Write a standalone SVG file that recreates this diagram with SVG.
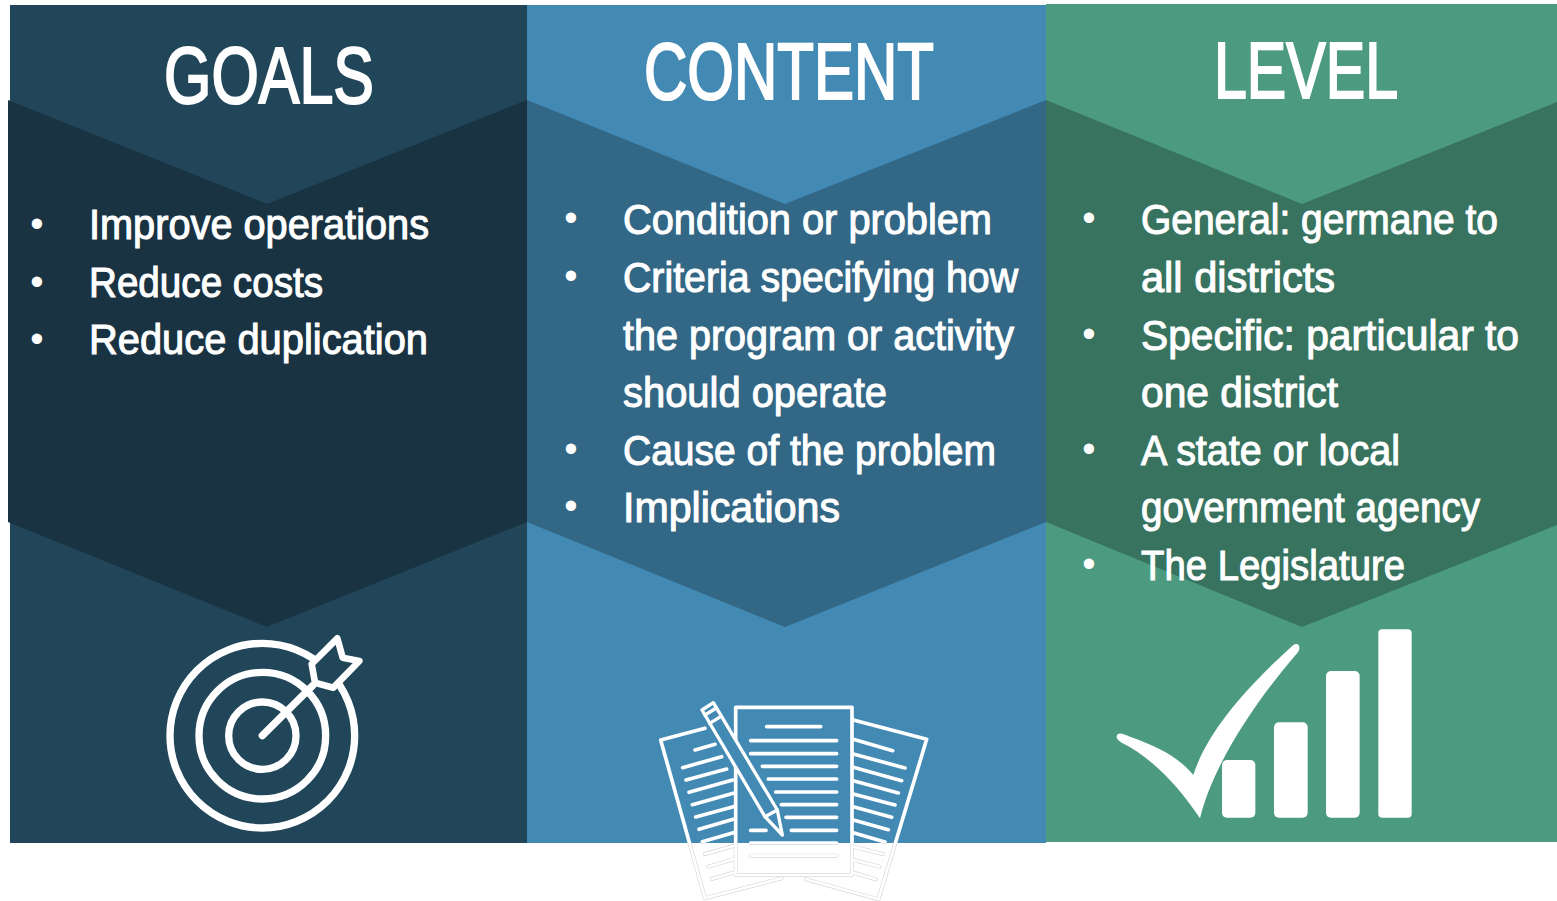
<svg xmlns="http://www.w3.org/2000/svg" xmlns:xlink="http://www.w3.org/1999/xlink" width="1557" height="901" viewBox="0 0 1557 901">
<style>
text{font-family:"Liberation Sans Narrow","Liberation Sans",Arial,sans-serif;fill:#fff;stroke:#fff}
.h{font-size:80px;stroke-width:2.2px}
.b{font-size:43px;stroke-width:1.1px}
.d{font-size:38px;text-anchor:middle;stroke-width:0;font-family:"Liberation Sans",Arial,sans-serif}
.ln{fill:none;stroke-linecap:round;stroke-linejoin:round}
</style>
<defs>
<clipPath id="above"><rect x="0" y="0" width="1557" height="843"/></clipPath>
<clipPath id="below"><rect x="0" y="843" width="1557" height="58"/></clipPath>
<g id="papers" transform="translate(640 690) scale(.33333)" stroke-linecap="round" stroke-linejoin="round">
<path d="M195,115 L62,150 L195,625 L425,565" fill="none"/>
<path d="M640,90 L860,148 L715,628 L498,568" fill="none"/>
<path d="M165,180L225,163M128,233L245,200M138,270L260,237M147,307L278,270M157,344L280,310M167,381L280,350M177,418L280,388M187,455L280,428M195,492L280,468M205,530L280,508M215,567L280,548" fill="none"/>
<path d="M640,148L758,182M640,192L795,234M640,232L785,272M640,272L775,309M640,312L765,345M640,350L755,382M640,390L745,419M640,428L735,456M640,470L728,492M640,510L718,530M640,548L708,568" fill="none"/>
<rect x="287" y="52" width="349" height="503"/>
<path d="M380,110H542M332,152H590M332,191H590M367,229H590M385,267H590M407,306H590M424,344H590M438,382H590M332,421H378M454,421H590M332,459H590M332,497H590" fill="none"/>
</g>
</defs>

<g id="goals">
<rect x="10" y="5" width="517" height="838" fill="#214559"/>
<path d="M8,100 L267,204 L527,100 V522 L267,627 L8,522 Z" fill="#1a3342"/>
<text class="h" x="164" y="103" textLength="210" lengthAdjust="spacingAndGlyphs">GOALS</text>
<text class="d" x="37" y="237">•</text>
<text class="b" x="89" y="239" textLength="340" lengthAdjust="spacingAndGlyphs">Improve operations</text>
<text class="d" x="37" y="295">•</text>
<text class="b" x="89" y="297" textLength="234" lengthAdjust="spacingAndGlyphs">Reduce costs</text>
<text class="d" x="37" y="352">•</text>
<text class="b" x="89" y="354" textLength="339" lengthAdjust="spacingAndGlyphs">Reduce duplication</text>
<g id="target-icon" transform="translate(130 620) scale(.33333)" class="ln" stroke="#fff" stroke-width="22">
<circle cx="397" cy="347" r="277"/>
<circle cx="397" cy="347" r="190"/>
<circle cx="397" cy="347" r="101"/>
<path d="M397,347 L548,197"/>
<path d="M545,132 L622,55 L638,113 L688,123 L610,203 L555,188 Z" fill="#214559" stroke-width="20"/>
</g>
</g>

<g id="content">
<rect x="527" y="5" width="519" height="838" fill="#4289b4"/>
<path d="M527,100 L785,204 L1046,100 V522 L785,627 L527,522 Z" fill="#336786"/>
<text class="h" x="644" y="99" textLength="290" lengthAdjust="spacingAndGlyphs">CONTENT</text>
<text class="d" x="571" y="231">•</text>
<text class="b" x="623" y="234" textLength="369" lengthAdjust="spacingAndGlyphs">Condition or problem</text>
<text class="d" x="571" y="289">•</text>
<text class="b" x="623" y="292" textLength="395" lengthAdjust="spacingAndGlyphs">Criteria specifying how</text>
<text class="b" x="623" y="350" textLength="391" lengthAdjust="spacingAndGlyphs">the program or activity</text>
<text class="b" x="623" y="407" textLength="264" lengthAdjust="spacingAndGlyphs">should operate</text>
<text class="d" x="571" y="462">•</text>
<text class="b" x="623" y="465" textLength="373" lengthAdjust="spacingAndGlyphs">Cause of the problem</text>
<text class="d" x="571" y="519">•</text>
<text class="b" x="623" y="522" textLength="217" lengthAdjust="spacingAndGlyphs">Implications</text>
<g id="document-icon">
<g clip-path="url(#above)"><use href="#papers" xlink:href="#papers" fill="#4289b4" stroke="#fff" stroke-width="11"/></g>
<g clip-path="url(#below)">
<use href="#papers" xlink:href="#papers" fill="#fff" stroke="#d8d8d8" stroke-width="12"/>
<use href="#papers" xlink:href="#papers" fill="none" stroke="#fff" stroke-width="8"/>
</g>
<g transform="translate(640 690) scale(.33333)" stroke="#fff" stroke-width="10" stroke-linejoin="round" stroke-linecap="round" fill="#4289b4">
<path d="M186,60 L220,38 L412,360 L427,435 L375,380 Z"/>
<path d="M195,75 L229,54M209,100 L243,79M375,380 L412,360" fill="none"/>
</g>
</g>
</g>

<g id="level">
<rect x="1046" y="4" width="511" height="838" fill="#4c9b80"/>
<path d="M1046,100 L1302,204 L1557,102 V525 L1302,627 L1046,522 Z" fill="#38735f"/>
<text class="h" x="1214" y="98" textLength="184" lengthAdjust="spacingAndGlyphs">LEVEL</text>
<text class="d" x="1089" y="231">•</text>
<text class="b" x="1141" y="234" textLength="357" lengthAdjust="spacingAndGlyphs">General: germane to</text>
<text class="b" x="1141" y="292" textLength="194" lengthAdjust="spacingAndGlyphs">all districts</text>
<text class="d" x="1089" y="347">•</text>
<text class="b" x="1141" y="350" textLength="378" lengthAdjust="spacingAndGlyphs">Specific: particular to</text>
<text class="b" x="1141" y="407" textLength="197" lengthAdjust="spacingAndGlyphs">one district</text>
<text class="d" x="1089" y="462">•</text>
<text class="b" x="1141" y="465" textLength="259" lengthAdjust="spacingAndGlyphs">A state or local</text>
<text class="b" x="1141" y="522" textLength="339" lengthAdjust="spacingAndGlyphs">government agency</text>
<text class="d" x="1089" y="577">•</text>
<text class="b" x="1141" y="580" textLength="264" lengthAdjust="spacingAndGlyphs">The Legislature</text>
<g id="check-icon" transform="translate(1100 620) scale(.33333)" fill="#fff">
<path d="M50,348 C55,335 70,342 90,350 C170,378 235,410 280,465 C320,340 430,210 580,75 C595,65 603,80 595,95 C470,240 340,430 300,595 C230,490 150,410 65,368 C55,362 48,355 50,348 Z"/>
<rect x="366" y="420" width="100" height="173" rx="15"/>
<rect x="522" y="307" width="101" height="286" rx="15"/>
<rect x="678" y="153" width="101" height="440" rx="15"/>
<rect x="835" y="28" width="100" height="565" rx="12"/>
</g>
</g>
</svg>
